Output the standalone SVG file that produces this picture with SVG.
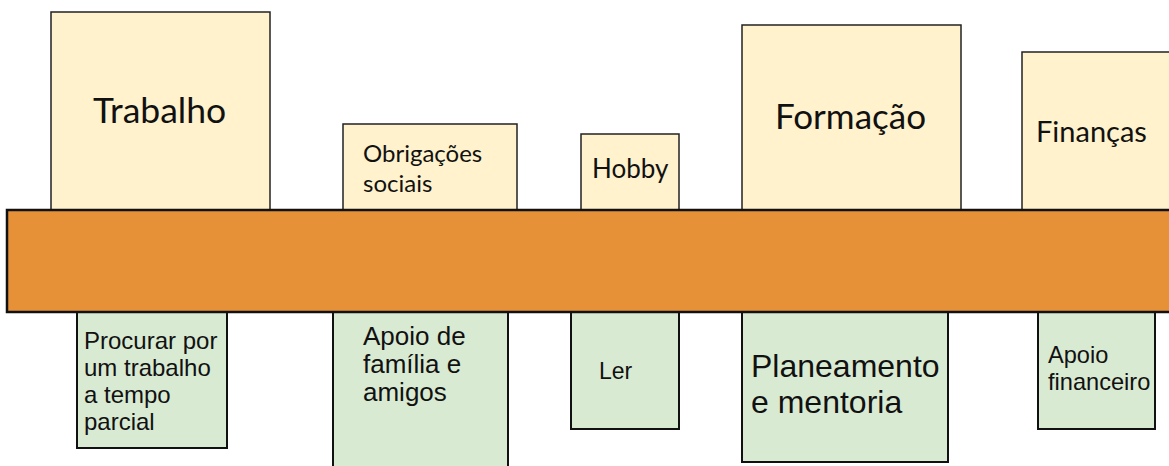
<svg xmlns="http://www.w3.org/2000/svg" width="1169" height="466" viewBox="0 0 1169 466">
<style>
.top{fill:#FFF2CC;stroke:#222;stroke-width:1.5}
.bot{fill:#D9EAD3;stroke:#111;stroke-width:2}
.bar{fill:#E69138;stroke:#111;stroke-width:2.5}
.c{font-family:Lato,"Open Sans",sans-serif;fill:#111}
.a{font-family:"Liberation Sans",Arial,sans-serif;fill:#111}
</style>
<rect width="1169" height="466" fill="#fff"/>
<g id="trabalho"><rect class="top" x="51" y="12" width="219" height="200"/><text class="c" x="93" y="123" font-size="35.5">Trabalho</text></g>
<g id="obrigacoes"><rect class="top" x="343" y="124" width="174" height="88"/><text class="c" x="363" y="162" font-size="24">Obrigações</text><text class="c" x="363" y="192" font-size="24">sociais</text></g>
<g id="hobby"><rect class="top" x="581" y="134" width="98" height="78"/><text class="c" x="592" y="178" font-size="26">Hobby</text></g>
<g id="formacao"><rect class="top" x="742" y="25" width="219" height="187"/><text class="c" x="775" y="129" font-size="35">Formação</text></g>
<g id="financas"><rect class="top" x="1022" y="52" width="160" height="160"/><text class="c" x="1036" y="142" font-size="29">Finanças</text></g>
<g id="procurar"><rect class="bot" x="77" y="300" width="150" height="148"/><text class="a" font-size="24"><tspan x="84" y="349">Procurar por</tspan><tspan x="84" y="376">um trabalho</tspan><tspan x="84" y="403">a tempo</tspan><tspan x="84" y="430">parcial</tspan></text></g>
<g id="apoio-familia"><rect class="bot" x="333" y="300" width="175" height="180"/><text class="a" font-size="26"><tspan x="363" y="345">Apoio de</tspan><tspan x="363" y="373">família e</tspan><tspan x="363" y="401">amigos</tspan></text></g>
<g id="ler"><rect class="bot" x="571" y="300" width="108" height="129"/><text class="a" x="599" y="379" font-size="23">Ler</text></g>
<g id="planeamento"><rect class="bot" x="742" y="300" width="206" height="162"/><text class="a" font-size="32"><tspan x="751" y="377">Planeamento</tspan><tspan x="751" y="413">e mentoria</tspan></text></g>
<g id="apoio-financeiro"><rect class="bot" x="1038" y="300" width="117" height="129"/><text class="a" font-size="23.6"><tspan x="1048" y="363">Apoio</tspan><tspan x="1048" y="390">financeiro</tspan></text></g>
<g id="connectors"><rect id="bar" class="bar" x="7" y="210" width="1180" height="102"/></g>
</svg>
